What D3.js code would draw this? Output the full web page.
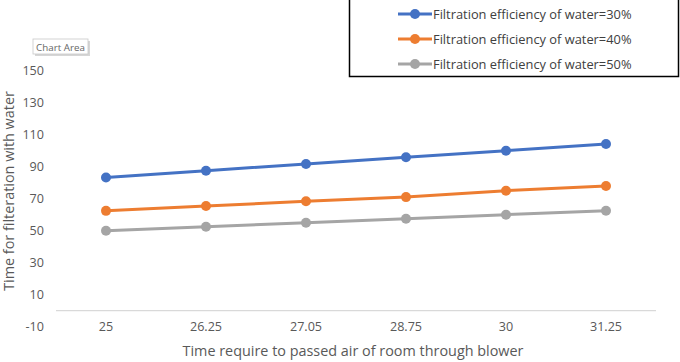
<!DOCTYPE html>
<html><head><meta charset="utf-8">
<script src="https://cdn.jsdelivr.net/npm/d3@7"></script>
<style>
body{margin:0;background:#fff;}
svg{display:block;font-family:"Open Sans","Liberation Sans",Arial,sans-serif;}
</style></head>
<body><svg id="c" width="680" height="362"></svg>
<script>
const categories = ["25","26.25","27.05","28.75","30","31.25"];
const series30 = [83.3, 87.5, 91.7, 95.9, 100, 104.2];
const series40 = [62.4, 65.4, 68.4, 71, 75, 77.9];
const series50 = [50, 52.5, 55, 57.5, 60, 62.5];
const seriesNames = ["Filtration efficiency of water=30%","Filtration efficiency of water=40%","Filtration efficiency of water=50%"];
const yTicks = [-10,10,30,50,70,90,110,130,150];
const colors = ["#4472C4","#ED7D31","#A5A5A5"];
const allSeries = [series30, series40, series50];

const FONT = '"Open Sans", "Liberation Sans", Arial, sans-serif';
const svg = d3.select("#c");
const L=56, R=656, T=70.7, B=326.7;
const x = d3.scaleBand().domain(categories).range([L,R]);
const y = d3.scaleLinear().domain([-10,150]).range([B,T]);

// x axis line at 0
svg.append("line").attr("x1",L).attr("x2",R).attr("y1",y(0)).attr("y2",y(0))
  .attr("stroke","#d9d9d9").attr("stroke-width",1.3);

// y tick labels
const yAxis = d3.axisLeft(y).tickValues(yTicks).tickFormat(d=>String(d)).tickSize(0).tickPadding(0);
const gy = svg.append("g").attr("transform",`translate(44,0)`).call(yAxis);
gy.select(".domain").remove();
gy.selectAll("text").attr("fill","#595959").style("font-size","12.6px").style("font-family",FONT);

// x tick labels
const xAxis = d3.axisBottom(x).tickSize(0).tickPadding(0);
const gx = svg.append("g").attr("transform",`translate(0,322)`).call(xAxis);
gx.select(".domain").remove();
gx.selectAll("text").attr("fill","#595959").style("font-size","12.6px").style("font-family",FONT);

// lines
const line = d3.line().x((d,i)=>x(categories[i])+x.bandwidth()/2).y(d=>y(d));
allSeries.forEach((s,k)=>{
  svg.append("path").datum(s).attr("d",line).attr("fill","none")
    .attr("stroke",colors[k]).attr("stroke-width",3).attr("stroke-linecap","round");
  svg.selectAll(null).data(s).enter().append("circle")
    .attr("cx",(d,i)=>x(categories[i])+x.bandwidth()/2).attr("cy",d=>y(d))
    .attr("r",5).attr("fill",colors[k]);
});

// axis titles
svg.append("text").attr("x",353).attr("y",356).attr("text-anchor","middle")
  .attr("fill","#595959").style("font-size","14.4px").text("Time require to passed air of room through blower");
svg.append("text").attr("transform","translate(14,191) rotate(-90)").attr("text-anchor","middle")
  .attr("fill","#595959").style("font-size","14.4px").text("Time for filteration with water");

// legend
svg.append("rect").attr("x",349.5).attr("y",-2).attr("width",329).attr("height",78.5)
  .attr("fill","#fff").attr("stroke","#000").attr("stroke-width",1.5);
seriesNames.forEach((n,k)=>{
  const ly = 14 + k*25;
  svg.append("line").attr("x1",398).attr("x2",432).attr("y1",ly).attr("y2",ly)
    .attr("stroke",colors[k]).attr("stroke-width",3);
  svg.append("circle").attr("cx",415).attr("cy",ly).attr("r",5).attr("fill",colors[k]);
  svg.append("text").attr("x",433).attr("y",ly+4.5).attr("fill","#404040")
    .style("font-size","12.85px").text(n);
});

// "Chart Area" tooltip
const tip = svg.append("g");
tip.append("rect").attr("x",35).attr("y",41).attr("width",55).attr("height",15).attr("fill","#bbb").attr("opacity",0.6);
tip.append("rect").attr("x",33).attr("y",39).attr("width",55).attr("height",15).attr("fill","#fff").attr("stroke","#c8c8c8").attr("stroke-width",0.8);
tip.append("text").attr("x",60.5).attr("y",50.5).attr("text-anchor","middle").attr("fill","#666")
  .style("font-size","9.8px").text("Chart Area");
</script></body></html>
